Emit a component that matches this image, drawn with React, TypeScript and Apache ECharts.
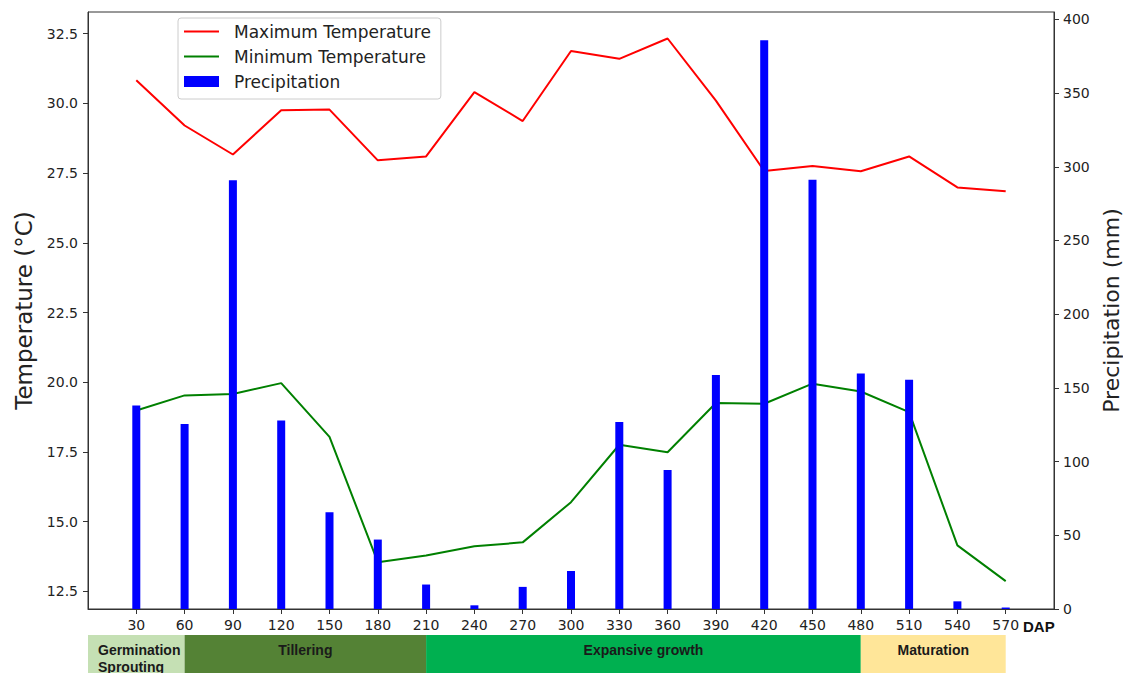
import React, { useEffect, useRef } from "react";
import * as echarts from "echarts";

// Days after planting (DAP) at which each 30-day period is reported
const days = [30, 60, 90, 120, 150, 180, 210, 240, 270, 300, 330, 360, 390, 420, 450, 480, 510, 540, 570];

// Mean maximum temperature per period (°C)
const maxTemp = [30.83, 29.21, 28.17, 29.76, 29.78, 27.96, 28.1, 30.41, 29.37, 31.88, 31.6, 32.33, 30.1, 27.58, 27.76, 27.57, 28.1, 26.99, 26.85];

// Mean minimum temperature per period (°C)
const minTemp = [18.99, 19.53, 19.58, 19.97, 18.04, 13.55, 13.79, 14.12, 14.26, 15.7, 17.76, 17.49, 19.26, 19.23, 19.95, 19.67, 18.93, 14.15, 12.87];

// Accumulated precipitation per period (mm)
const precip = [138, 125.5, 290.8, 127.8, 65.6, 47.1, 16.6, 2.5, 15.0, 25.8, 126.9, 94.3, 158.7, 385.8, 291.2, 159.7, 155.6, 5.2, 1.0];

// Tick labels
const tempTicks = [12.5, 15, 17.5, 20, 22.5, 25, 27.5, 30, 32.5];
const precipTicks = [0, 50, 100, 150, 200, 250, 300, 350, 400];

// Crop phenological phases (DAP ranges)
const phaseNames = ["Germination\nSprouting", "Tillering", "Expansive growth", "Maturation"];
const phaseStart = [0, 60, 210, 480];
const phaseEnd = [60, 210, 480, 570];

const PHASE_COLORS = ["#c5e0b4", "#548235", "#00b050", "#ffe699"];
const AXIS_COLOR = "#333333";
const TEXT_COLOR = "#222222";
const FONT = "DejaVu Sans";

// Legend handle for the line series: a 2px stroke across a 35x11 box
// (the two tiny squares pin the box corners so the stroke keeps its place)
const LINE_ICON = "path://M0,0H0.01V0.01H0ZM35,10.99H35.01V11H35ZM0,4.5H35V6.5H0Z";

export default function App() {
  const ref = useRef<HTMLDivElement>(null);

  useEffect(() => {
    if (!ref.current) return;
    const chart = echarts.init(ref.current, undefined, { renderer: "svg" });

    const option: any = {
      animation: false,
      backgroundColor: "#ffffff",
      grid: [
        {
          left: 88,
          top: 12,
          width: 966,
          height: 597,
          show: true,
          borderColor: AXIS_COLOR,
          borderWidth: 1,
          outerBoundsMode: "none",
        },
        { left: 88, top: 635, width: 966, height: 40, outerBoundsMode: "none" },
      ],
      legend: {
        left: 178,
        top: 18,
        orient: "vertical",
        itemWidth: 35,
        itemHeight: 11,
        itemGap: 8,
        padding: [5, 10, 9, 6],
        borderColor: "#cccccc",
        borderWidth: 1,
        borderRadius: 3,
        backgroundColor: "rgba(255,255,255,0.85)",
        textStyle: { fontSize: 17, fontFamily: FONT, color: TEXT_COLOR, padding: [0, 0, 0, 10] },
        data: [
          { name: "Maximum Temperature", icon: LINE_ICON },
          { name: "Minimum Temperature", icon: LINE_ICON },
          { name: "Precipitation", icon: "rect" },
        ],
        z: 10,
      },
      xAxis: [
        {
          type: "value",
          gridIndex: 0,
          min: 0,
          max: 600,
          axisLine: { lineStyle: { color: AXIS_COLOR, width: 1 } },
          axisTick: { customValues: days, length: 5, lineStyle: { color: AXIS_COLOR } },
          axisLabel: {
            customValues: days,
            fontSize: 14,
            fontFamily: FONT,
            color: TEXT_COLOR,
            margin: 9,
          },
          splitLine: { show: false },
        },
        { type: "value", gridIndex: 1, min: 0, max: 600, show: false },
      ],
      yAxis: [
        {
          type: "value",
          gridIndex: 0,
          position: "left",
          min: 11.87,
          max: 33.28,
          name: "Temperature (°C)",
          nameLocation: "middle",
          nameRotate: 90,
          nameGap: 45,
          nameTextStyle: { fontSize: 23, fontFamily: FONT, color: TEXT_COLOR },
          axisLine: { show: true, lineStyle: { color: AXIS_COLOR, width: 1 } },
          axisTick: { show: true, customValues: tempTicks, length: 5, lineStyle: { color: AXIS_COLOR } },
          axisLabel: {
            customValues: tempTicks,
            formatter: (v: number) => v.toFixed(1),
            fontSize: 14,
            fontFamily: FONT,
            color: TEXT_COLOR,
            margin: 10,
          },
          splitLine: { show: false },
        },
        {
          type: "value",
          gridIndex: 0,
          position: "right",
          min: 0,
          max: 405,
          name: "Precipitation (mm)",
          nameLocation: "middle",
          nameRotate: 90,
          nameGap: 41,
          nameTextStyle: { fontSize: 22, fontFamily: FONT, color: TEXT_COLOR },
          axisLine: { show: true, lineStyle: { color: AXIS_COLOR, width: 1 } },
          axisTick: { show: true, customValues: precipTicks, length: 5, lineStyle: { color: AXIS_COLOR } },
          axisLabel: {
            customValues: precipTicks,
            fontSize: 14,
            fontFamily: FONT,
            color: TEXT_COLOR,
            margin: 9,
          },
          splitLine: { show: false },
        },
        { type: "value", gridIndex: 1, min: 0, max: 1, show: false },
      ],
      graphic: [
        {
          type: "text",
          left: 1023,
          top: 619,
          style: {
            text: "DAP",
            fontSize: 15,
            fontWeight: "bold",
            fontFamily: "Liberation Sans",
            fill: "#111111",
          },
        },
      ],
      series: [
        {
          name: "Maximum Temperature",
          type: "line",
          xAxisIndex: 0,
          yAxisIndex: 0,
          data: days.map((d, i) => [d, maxTemp[i]]),
          symbol: "none",
          color: "#ff0000",
          lineStyle: { width: 2, color: "#ff0000" },
          z: 2,
        },
        {
          name: "Minimum Temperature",
          type: "line",
          xAxisIndex: 0,
          yAxisIndex: 0,
          data: days.map((d, i) => [d, minTemp[i]]),
          symbol: "none",
          color: "#008000",
          lineStyle: { width: 2, color: "#008000" },
          z: 2,
        },
        {
          name: "Precipitation",
          type: "bar",
          xAxisIndex: 0,
          yAxisIndex: 1,
          data: days.map((d, i) => [d, precip[i]]),
          barWidth: 8,
          color: "#0000ff",
          itemStyle: { color: "#0000ff" },
          z: 3,
        },
        {
          name: "phases",
          type: "custom",
          xAxisIndex: 1,
          yAxisIndex: 2,
          data: phaseStart.map((s, i) => [s, phaseEnd[i], i]),
          renderItem: (params: any, api: any) => {
            const i = api.value(2);
            const p0 = api.coord([api.value(0), 0]);
            const p1 = api.coord([api.value(1), 1]);
            const x = p0[0];
            const w = p1[0] - p0[0];
            const y = p1[1];
            const h = p0[1] - p1[1];
            const leftAligned = i === 0;
            return {
              type: "group",
              children: [
                {
                  type: "rect",
                  shape: { x, y, width: w, height: h },
                  style: { fill: PHASE_COLORS[i] },
                },
                {
                  type: "text",
                  x: leftAligned ? x + 10 : x + w / 2,
                  y: y + 6,
                  style: {
                    text: phaseNames[i],
                    fill: "#1a1a1a",
                    fontSize: 14,
                    fontWeight: "bold",
                    fontFamily: "Liberation Sans",
                    align: leftAligned ? "left" : "center",
                    verticalAlign: "top",
                    lineHeight: 17,
                  },
                },
              ],
            };
          },
          z: 1,
        },
      ],
    };

    chart.setOption(option);
    return () => chart.dispose();
  }, []);

  return (
    <div
      ref={ref}
      style={{ position: "fixed", left: 0, top: 0, width: 1123, height: 673, background: "#ffffff" }}
    />
  );
}
